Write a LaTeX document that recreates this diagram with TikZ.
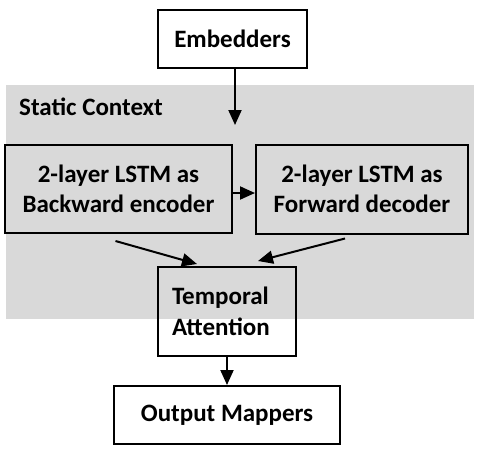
\documentclass[tikz,border=0pt]{standalone}
\usepackage{fontspec}
\setmainfont{Carlito}
\usetikzlibrary{arrows.meta,backgrounds,positioning}

\definecolor{ctxgray}{RGB}{217,217,217}

\begin{document}
\begin{tikzpicture}
    [x=1pt,y=1pt,
    font=\fontsize{25}{30.5}\selectfont\bfseries,
    block/.style={draw,line width=2pt,align=center,inner sep=2pt},
    post/.style={-{Triangle[length=15pt,width=13pt]},line width=2pt}]
    \useasboundingbox (0,0) rectangle (481,-448);
    \node[block,minimum width=149pt,minimum height=58pt] (embed) at (232.5,-39) {Embedders};
    \node[block,minimum width=227pt,minimum height=88pt] (enc) at (118.5,-189) {2-layer LSTM as\\Backward encoder};
    \node[block,minimum width=212pt,minimum height=89pt] (dec) [right=22pt of enc] {2-layer LSTM as\\Forward decoder};
    \node[block,minimum width=138pt,minimum height=89pt,text width=110pt,align=left] (attn) at (227,-311.5) {Temporal\\Attention};
    \node[block,minimum width=226pt,minimum height=58pt] (out) [below=28pt of attn] {Output Mappers};
    \node[anchor=base west,inner sep=0pt] (ctxlabel) at (19,-115) {Static Context};
    \coordinate (ctxin) at (235,-125);
    \begin{scope}[on background layer]
        \fill[ctxgray] (6,-85) rectangle (474,-319);
    \end{scope}
    \draw[post] ([xshift=2.5pt]embed.south) -- (ctxin);
    \draw[post] ([yshift=-4pt]enc.east) -- ([yshift=-4pt]dec.west);
    \draw[post] ([xshift=-3pt,yshift=-7pt]enc.south) -- ([xshift=-30pt,yshift=2pt]attn.north);
    \draw[post] ([xshift=-17pt,yshift=-4pt]dec.south) -- ([xshift=31pt,yshift=5pt]attn.north);
    \draw[post] (attn.south) -- (out.north);
\end{tikzpicture}
\end{document}
